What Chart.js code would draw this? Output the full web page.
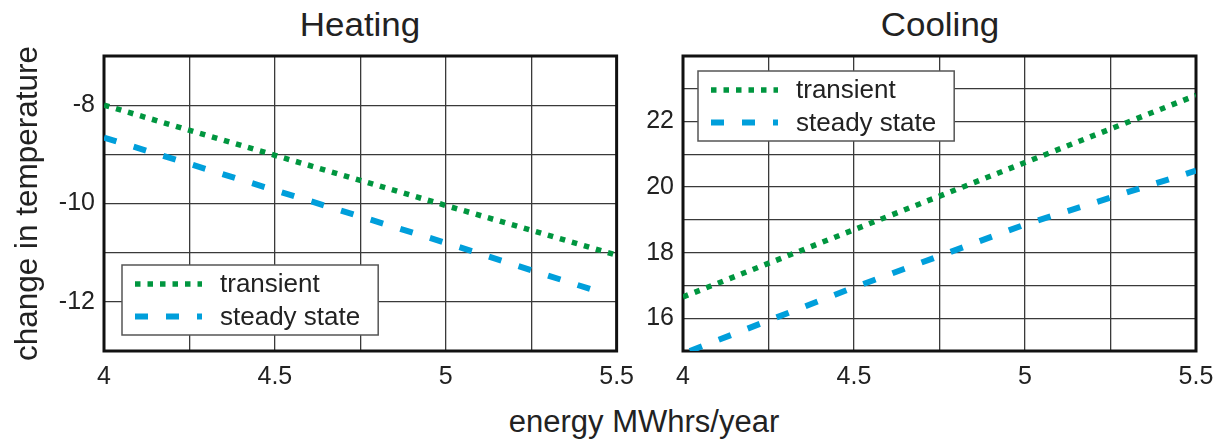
<!DOCTYPE html>
<html>
<head>
<meta charset="utf-8">
<title>Heating / Cooling</title>
<script src="https://cdn.jsdelivr.net/npm/chart.js@4.4.0/dist/chart.umd.min.js"></script>
<style>
  body { margin: 0; background: #fff; width: 1226px; height: 443px; overflow: hidden; position: relative;
         font-family: "Liberation Sans", Arial, sans-serif; color: #222; }
  #heatWrap { position: absolute; left: 0; top: 0; width: 645px; height: 443px; }
  #coolWrap { position: absolute; left: 640px; top: 0; width: 586px; height: 443px; }
  .title { position: absolute; top: 8px; font-size: 33px; line-height: 33px; white-space: nowrap; transform: translateX(-50%) scaleX(1.06); }
  #xlabel { position: absolute; left: 644px; top: 406px; font-size: 31px; line-height: 31px; white-space: nowrap; transform: translateX(-50%); }
</style>
</head>
<body>
<div class="title" style="left:360px">Heating</div>
<div class="title" style="left:940px">Cooling</div>
<div id="xlabel">energy MWhrs/year</div>
<div id="heatWrap"><canvas id="heatChart"></canvas></div>
<div id="coolWrap"><canvas id="coolChart"></canvas></div>
<script>
// data
var seriesNames = ["transient", "steady state"];

var heatTransientX = [4, 4.5, 5, 5.5];
var heatTransientY = [-8.0, -9.02, -10.04, -11.05];
var heatSteadyX = [4, 4.5, 5, 5.45];
var heatSteadyY = [-8.66, -9.73, -10.8, -11.8];

var coolTransientX = [4, 4.5, 5, 5.5];
var coolTransientY = [16.65, 18.7, 20.75, 22.8];
var coolSteadyX = [4.02, 4.5, 5, 5.5];
var coolSteadyY = [15.0, 16.94, 18.86, 20.5];

var xTicks = [4, 4.5, 5, 5.5];
var heatYTicks = [-8, -10, -12];
var coolYTicks = [16, 18, 20, 22];

var green = "#00963f";
var blue = "#009fdb";

Chart.defaults.font.family = '"Liberation Sans", Arial, sans-serif';
Chart.defaults.color = "#222";

function points(xs, ys) {
    return xs.map(function (x, i) { return { x: x, y: ys[i] }; });
}

function makeSets(tx, ty, sx, sy) {
    return [{
        label: seriesNames[0],
        data: points(tx, ty),
        borderColor: green,
        borderWidth: 5.5,
        borderDash: [5.5, 7],
        pointRadius: 0,
        fill: false
    }, {
        label: seriesNames[1],
        data: points(sx, sy),
        borderColor: blue,
        borderWidth: 6,
        borderDash: [13, 18],
        pointRadius: 0,
        fill: false
    }];
}

// black frame round the plot area
var framePlugin = {
    id: "frame",
    beforeDatasetsDraw: function (chart) {
        var a = chart.chartArea, ctx = chart.ctx;
        ctx.save();
        ctx.strokeStyle = "#111";
        ctx.lineWidth = 3;
        ctx.strokeRect(a.left, a.top, a.right - a.left, a.bottom - a.top);
        ctx.restore();
    }
};

// boxed legend inside the plot, with line samples
var boxLegend = {
    id: "boxLegend",
    afterDraw: function (chart, args, opts) {
        var a = chart.chartArea, ctx = chart.ctx;
        ctx.save();
        ctx.font = "26px " + Chart.defaults.font.family;
        var tw = 0;
        chart.data.datasets.forEach(function (ds) { tw = Math.max(tw, ctx.measureText(ds.label).width); });
        var w = 98 + tw + 18, h = 70;
        var left = a.left + opts.dx;
        var top = opts.bottom ? a.bottom - opts.dy - h : a.top + opts.dy;
        ctx.fillStyle = "#fff";
        ctx.fillRect(left, top, w, h);
        ctx.strokeStyle = "#555";
        ctx.lineWidth = 1.5;
        ctx.strokeRect(left, top, w, h);
        var rows = [19, 51.5];
        chart.data.datasets.forEach(function (ds, i) {
            var y = top + rows[i];
            ctx.beginPath();
            ctx.setLineDash(ds.borderDash);
            ctx.strokeStyle = ds.borderColor;
            ctx.lineWidth = ds.borderWidth;
            ctx.moveTo(left + 13, y);
            ctx.lineTo(left + 80, y);
            ctx.stroke();
            ctx.setLineDash([]);
            ctx.fillStyle = "#222";
            ctx.textBaseline = "middle";
            ctx.fillText(ds.label, left + 98, y + 1);
        });
        ctx.restore();
    }
};

function xScale() {
    return {
        type: "linear",
        min: 4,
        max: 5.5,
        afterFit: function (s) { s.height = 40; },
        border: { display: false },
        grid: { color: "#3a3a3a", lineWidth: 1.3, drawTicks: false },
        ticks: {
            stepSize: 0.25,
            autoSkip: false,
            maxRotation: 0,
            padding: 11,
            font: { size: 25 },
            callback: function (v) { return xTicks.indexOf(v) >= 0 ? String(v) : ""; }
        }
    };
}

function yScale(min, max, labels, width, title) {
    return {
        type: "linear",
        min: min,
        max: max,
        afterFit: function (s) { s.width = width; },
        border: { display: false },
        grid: { color: "#3a3a3a", lineWidth: 1.3, drawTicks: false },
        title: title,
        ticks: {
            stepSize: 1,
            autoSkip: false,
            padding: 9,
            font: { size: 25 },
            callback: function (v) { return labels.indexOf(v) >= 0 ? String(v) : ""; }
        }
    };
}

new Chart(document.getElementById("heatChart"), {
    type: "line",
    data: { datasets: makeSets(heatTransientX, heatTransientY, heatSteadyX, heatSteadyY) },
    options: {
        responsive: true,
        maintainAspectRatio: false,
        animation: false,
        layout: { padding: { left: 0, top: 56, right: 18, bottom: 52 } },
        plugins: { legend: { display: false }, tooltip: { enabled: false },
                   boxLegend: { dx: 18, dy: 16, bottom: true } },
        scales: {
            x: xScale(),
            y: yScale(-13, -7, heatYTicks, 104, {
                display: true,
                text: "change in temperature",
                font: { size: 31.5 },
                padding: { top: 9, bottom: 0 }
            })
        }
    },
    plugins: [framePlugin, boxLegend]
});

new Chart(document.getElementById("coolChart"), {
    type: "line",
    data: { datasets: makeSets(coolTransientX, coolTransientY, coolSteadyX, coolSteadyY) },
    options: {
        responsive: true,
        maintainAspectRatio: false,
        animation: false,
        layout: { padding: { left: 0, top: 56, right: 30, bottom: 52 } },
        plugins: { legend: { display: false }, tooltip: { enabled: false },
                   boxLegend: { dx: 15, dy: 15, bottom: false } },
        scales: {
            x: xScale(),
            y: yScale(15, 24, coolYTicks, 43, { display: false })
        }
    },
    plugins: [framePlugin, boxLegend]
});
</script>
</body>
</html>
